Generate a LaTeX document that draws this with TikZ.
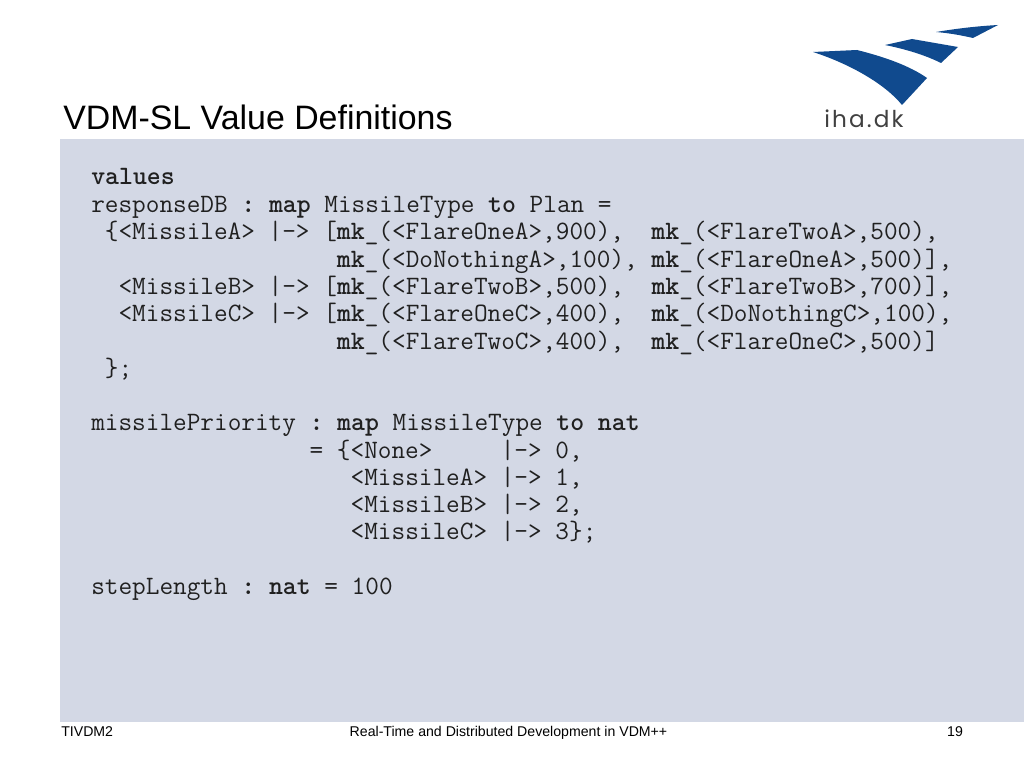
\documentclass[tikz,border=0pt]{standalone}
\usepackage{fontspec}
\setmainfont{Liberation Sans}
\newfontfamily\logofont[LetterSpace=9]{Poppins}
\usetikzlibrary{positioning}
\frenchspacing
\definecolor{panelblue}{HTML}{D3D8E5}
\definecolor{logoblue}{HTML}{104A8E}
\definecolor{codegrey}{HTML}{202020}
\tikzset{
  codeline/.style={anchor=base west, inner sep=0pt, text=codegrey, font=\fontsize{18.85}{20}\ttfamily},
  footline/.style={anchor=base, inner sep=0pt, font=\fontsize{10.05}{12}\selectfont}
}
\newcommand{\kw}[1]{\textbf{#1}}
\newcommand{\mkc}{\kw{mk}\_}

\begin{document}
\begin{tikzpicture}[x=0.025cm, y=-0.025cm]
\useasboundingbox (0, 0) rectangle (1024, 768);
\fill[panelblue] (60, 139) rectangle (1024, 722);

% logo
\fill[logoblue] (813, 52) -- (857, 50) .. controls (885, 57) and (910, 66) .. (927, 78) -- (902, 105) .. controls (885, 84) and (850, 64) .. cycle;
\fill[logoblue] (885, 45) -- (912, 39) -- (958, 47) -- (941, 63) .. controls (925, 55) and (905, 49) .. cycle;
\fill[logoblue] (936, 32) .. controls (960, 28) and (980, 26) .. (998, 25) -- (973, 38) .. controls (960, 35) and (948, 33) .. cycle;
\node[anchor=base west, inner sep=0pt, text=black!75, font=\fontsize{16.5}{18}\logofont] (logotext) at (824, 128) {iha.dk};

% title
\node[anchor=base west, inner sep=0pt, font=\fontsize{24.1}{28}\selectfont] (title) at (63, 130) {VDM-SL Value Definitions};

% code
\node[codeline] (values) at (91, 185) {\kw{values}};
\node[codeline] (resp) at (91, 212) {responseDB \kw{:} \kw{map} MissileType \kw{to} Plan =};
\node[codeline] (respa) at (104.6, 239.5) {\{<MissileA> |-> [\mkc(<FlareOneA>,900),\ \ \mkc(<FlareTwoA>,500),};
\node[codeline] (respb) at (336.7, 267) {\mkc(<DoNothingA>,100), \mkc(<FlareOneA>,500)],};
\node[codeline] (respc) at (118.3, 294) {<MissileB> |-> [\mkc(<FlareTwoB>,500),\ \ \mkc(<FlareTwoB>,700)],};
\node[codeline] (respd) at (118.3, 321.5) {<MissileC> |-> [\mkc(<FlareOneC>,400),\ \ \mkc(<DoNothingC>,100),};
\node[codeline] (respe) at (336.7, 349) {\mkc(<FlareTwoC>,400),\ \ \mkc(<FlareOneC>,500)]};
\node[codeline] (respf) at (104.6, 376) {\};};

\node[codeline] (prio) at (91, 430.5) {missilePriority \kw{:} \kw{map} MissileType \kw{to} \kw{nat}};
\node[codeline] (prioa) at (309.4, 458) {= \{<None>\ \ \ \ \ |-> 0,};
\node[codeline] (priob) at (350.4, 485) {<MissileA> |-> 1,};
\node[codeline] (prioc) at (350.4, 512) {<MissileB> |-> 2,};
\node[codeline] (priod) at (350.4, 539.5) {<MissileC> |-> 3\};};

\node[codeline] (step) at (91, 594.5) {stepLength \kw{:} \kw{nat} = 100};

% footer
\node[footline, anchor=base west] (footl) at (61, 736) {TIVDM2};
\node[footline] (footm) at (508.5, 736) {Real-Time and Distributed Development in VDM++};
\node[footline] (footr) at (955, 736) {19};
\end{tikzpicture}
\end{document}
